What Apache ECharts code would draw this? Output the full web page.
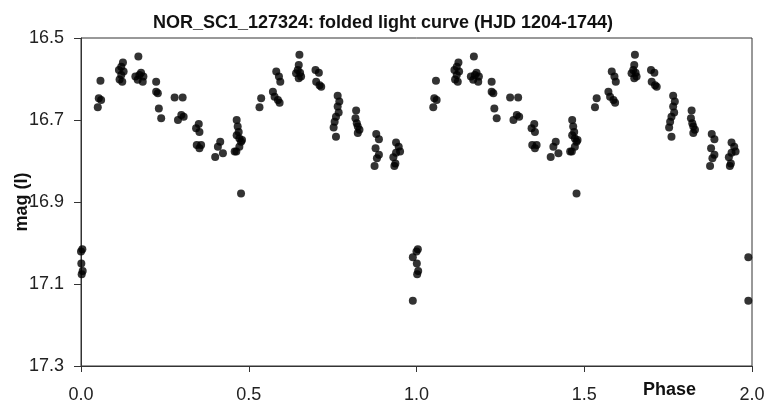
<!DOCTYPE html>
<html>
<head>
<meta charset="utf-8">
<script src="https://cdn.jsdelivr.net/npm/echarts@6/dist/echarts.min.js"></script>
<style>
html,body{margin:0;padding:0;background:#fff;}
#chart{width:766px;height:403px;}
</style>
</head>
<body>
<div id="chart"></div>
<script>
// Folded phases (0..1) and I magnitudes
var phases = [
0.000,0.004,0.001,0.005,0.002,
0.058,0.053,0.060,0.050,
0.125,0.120,0.113,0.127,0.120,0.115,0.123,
0.171,0.162,0.179,0.169,0.184,0.174,0.186,
0.224,0.224,0.229,0.232,0.239,
0.279,0.303,0.299,0.289,0.306,
0.351,0.343,0.353,0.345,0.358,0.353,
0.415,0.408,0.400,0.423,
0.464,0.467,0.470,0.464,0.472,0.477,0.480,0.472,0.463,0.458,0.477,
0.532,0.537,0.572,0.577,0.587,0.592,0.582,0.590,0.594,
0.651,0.649,0.646,0.653,0.641,0.649,0.656,
0.699,0.709,0.701,0.711,0.716,
0.765,0.770,0.765,0.768,0.760,0.756,0.753,0.760,
0.820,0.818,0.822,0.825,0.830,0.825,
0.880,0.888,0.878,0.888,0.882,0.875,
0.939,0.947,0.951,0.939,0.931,0.937,0.934,
0.989,0.989
];
var mags = [
17.021,17.015,17.050,17.068,17.076,
16.604,16.647,16.651,16.669,
16.560,16.570,16.578,16.582,16.590,16.601,16.607,
16.545,16.594,16.585,16.602,16.607,16.590,16.594,
16.607,16.631,16.635,16.672,16.696,
16.645,16.645,16.688,16.700,16.692,
16.710,16.720,16.729,16.761,16.761,16.769,
16.753,16.765,16.790,16.781,
16.700,16.716,16.729,16.737,16.745,16.753,16.749,16.765,16.777,16.777,16.879,
16.669,16.647,16.631,16.643,16.651,16.658,16.582,16.594,16.607,
16.541,16.566,16.578,16.585,16.586,16.598,16.594,
16.578,16.585,16.607,16.615,16.619,
16.641,16.655,16.667,16.682,16.692,16.704,16.718,16.741,
16.677,16.696,16.708,16.716,16.724,16.732,
16.734,16.747,16.769,16.785,16.793,16.812,
16.755,16.765,16.777,16.780,16.791,16.806,16.812,
17.035,17.141
];
var cycleOffsets = [0, 1]; // folded curve shown over two cycles
var xTicks = [0, 0.5, 1.0, 1.5, 2.0];
var yTicks = [16.5, 16.7, 16.9, 17.1, 17.3];
var titleText = 'NOR_SC1_127324: folded light curve (HJD 1204-1744)';

var pts = [];
cycleOffsets.forEach(function (off) {
  for (var i = 0; i < phases.length; i++) pts.push([phases[i] + off, mags[i]]);
});

var font = 'Liberation Sans, Arial, sans-serif';
var chart = echarts.init(document.getElementById('chart'), null, {renderer: 'canvas'});
chart.setOption({
  animation: false,
  backgroundColor: '#ffffff',
  title: {
    text: titleText, left: 'center', top: 9,
    textStyle: {fontFamily: font, fontSize: 18, fontWeight: 'bold', color: '#111'}
  },
  grid: {
    left: 81, right: 14, top: 38, bottom: 37,
    containLabel: false, outerBoundsMode: 'none',
    show: true, borderColor: '#333', borderWidth: 1, backgroundColor: 'transparent'
  },
  xAxis: {
    type: 'value', min: 0, max: 2,
    axisLine: {show: true, onZero: false, lineStyle: {color: '#333', width: 1}},
    axisTick: {show: true, customValues: xTicks, length: 6, lineStyle: {color: '#333'}},
    axisLabel: {customValues: xTicks, margin: 20, fontFamily: font, fontSize: 18, color: '#222',
      formatter: function (v) { return v.toFixed(1); }},
    splitLine: {show: false}
  },
  yAxis: {
    type: 'value', inverse: true, min: 16.5, max: 17.3,
    name: 'mag (I)', nameLocation: 'middle', nameGap: 50, nameRotate: 90,
    nameMoveOverlap: false,
    nameTextStyle: {fontFamily: font, fontSize: 18, fontWeight: 'bold', color: '#111'},
    axisLine: {show: true, onZero: false, lineStyle: {color: '#333', width: 1}},
    axisTick: {show: true, customValues: yTicks, length: 7, lineStyle: {color: '#333'}},
    axisLabel: {customValues: yTicks, margin: 17, fontFamily: font, fontSize: 18, color: '#222',
      formatter: function (v) { return v.toFixed(1); }},
    splitLine: {show: false}
  },
  graphic: [{
    type: 'text', left: 643, top: 381,
    style: {text: 'Phase', fontFamily: font, fontSize: 18, fontWeight: 'bold', fill: '#111'}
  }],
  series: [{
    type: 'scatter',
    data: pts,
    symbol: 'circle',
    symbolSize: 8,
    itemStyle: {color: '#000'},
    clip: false
  }]
});
</script>
</body>
</html>
